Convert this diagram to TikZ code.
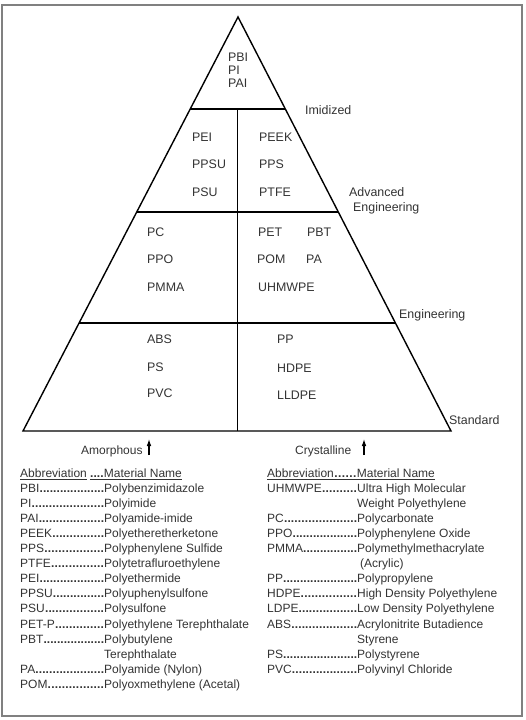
\documentclass[tikz,border=0pt]{standalone}
\usepackage{fontspec}
\setmainfont{Liberation Sans}
\usetikzlibrary{calc,arrows.meta}
\definecolor{txtgray}{HTML}{333333}
\definecolor{framegray}{HTML}{808080}
\newcommand{\dotlead}{\xleaders\hbox{\textbf{.}}\hfill}
\newcommand{\trow}[3]{\makebox[#1][l]{#2\dotlead}#3}
\tikzset{
  pyrline/.style={line width=1.4pt, black},
  framebox/.style={draw=framegray, line width=1.3pt},
  ptxt/.style={font=\fontsize{12.4}{14}\selectfont, text=txtgray, inner sep=0pt, anchor=base west},
  ttxt/.style={font=\fontsize{12}{14}\selectfont, text=txtgray, inner sep=0pt, anchor=base west},
  uparrow/.style={line width=1.1pt, -{Latex[length=7pt,width=4.6pt]}}
}
\begin{document}
\begin{tikzpicture}[x=1pt,y=-1pt]
\useasboundingbox (0,0) rectangle (525,720);
% frame
\draw[framebox] (2,5) rectangle (522,716);
% pyramid
\coordinate (apex) at (238,17);
\coordinate (bl) at (23,431);
\coordinate (br) at (451,431);
\coordinate (h1l) at ($(apex)!0.2222!(bl)$);
\coordinate (h1r) at ($(apex)!0.2222!(br)$);
\coordinate (h2l) at ($(apex)!0.4710!(bl)$);
\coordinate (h2r) at ($(apex)!0.4710!(br)$);
\coordinate (h3l) at ($(apex)!0.7391!(bl)$);
\coordinate (h3r) at ($(apex)!0.7391!(br)$);
\coordinate (vt) at ($(h1l)!0.5!(h1r)$);
\coordinate (vb) at (vt |- bl);
\draw[pyrline, line join=miter] (apex) -- (bl) -- (br) -- cycle;
\draw[pyrline] (h1l) -- (h1r);
\draw[pyrline] (h2l) -- (h2r);
\draw[pyrline] (h3l) -- (h3r);
\draw[pyrline] (vt) -- (vb);
% pyramid contents
\node[ptxt] (pbi) at (228,61) {PBI};
\node[ptxt] (pi) at (228,74) {PI};
\node[ptxt] (pai) at (228,87) {PAI};
\node[ptxt] (pei) at (192,141.5) {PEI};
\node[ptxt] (ppsu) at (192,168.5) {PPSU};
\node[ptxt] (psu) at (192,196.5) {PSU};
\node[ptxt] (peek) at (259,141.5) {PEEK};
\node[ptxt] (pps) at (259,168.5) {PPS};
\node[ptxt] (ptfe) at (259,196.5) {PTFE};
\node[ptxt] (pc) at (147,236.5) {PC};
\node[ptxt] (ppo) at (147,263.5) {PPO};
\node[ptxt] (pmma) at (147,291.5) {PMMA};
\node[ptxt] (pet) at (258,236.5) {PET};
\node[ptxt] (pbt) at (307,236.5) {PBT};
\node[ptxt] (pom) at (257,263.5) {POM};
\node[ptxt] (pa) at (306,263.5) {PA};
\node[ptxt] (uhmwpe) at (258,291.5) {UHMWPE};
\node[ptxt] (abs) at (147,343.5) {ABS};
\node[ptxt] (ps) at (147,371.5) {PS};
\node[ptxt] (pvc) at (147,397.5) {PVC};
\node[ptxt] (pp) at (277,343.5) {PP};
\node[ptxt] (hdpe) at (277,372.5) {HDPE};
\node[ptxt] (lldpe) at (277,399.5) {LLDPE};
% level labels
\node[ptxt] (imid) at (305,114.5) {Imidized};
\node[ptxt] (adv1) at (349,196.5) {Advanced};
\node[ptxt] (adv2) at (353,211.5) {Engineering};
\node[ptxt] (eng) at (399,318.5) {Engineering};
\node[ptxt] (std) at (449,424.5) {Standard};
% amorphous / crystalline
\node[ttxt] (amor) at (81,454.2) {Amorphous};
\node[ttxt] (cryst) at (295,454.2) {Crystalline};
\coordinate (a1s) at (149,455);
\coordinate (a1e) at (149,439);
\coordinate (a2s) at (364,455);
\coordinate (a2e) at (364,439);
\draw[uparrow] (a1s) -- (a1e);
\draw[uparrow] (a2s) -- (a2e);
% left table
\node[ttxt] (lh) at (20,477.2) {\underline{Abbreviation}\hspace{3pt}\underline{\makebox[14pt][l]{\dotlead}Material Name}};
\foreach \i/\a/\n in {1/PBI/Polybenzimidazole,2/PI/Polyimide,3/PAI/Polyamide-imide,4/PEEK/Polyetheretherketone,5/PPS/Polyphenylene Sulfide,6/PTFE/Polytetrafluroethylene,7/PEI/Polyethermide,8/PPSU/Polyuphenylsulfone,9/PSU/Polysulfone,10/PET-P/Polyethylene Terephthalate,11/PBT/Polybutylene,13/PA/Polyamide (Nylon),14/POM/Polyoxmethylene (Acetal)}
  \node[ttxt] (L\i) at (20,{477.2+15.08*\i}) {\trow{84pt}{\a}{\n}};
\node[ttxt] (L12) at (104,{477.2+15.08*12}) {Terephthalate};
% right table
\node[ttxt] (rh) at (267,477.2) {\underline{Abbreviation\makebox[23pt][l]{\dotlead}Material Name}};
\foreach \i/\a/\n in {1/UHMWPE/Ultra High Molecular,3/PC/Polycarbonate,4/PPO/Polyphenylene Oxide,5/PMMA/Polymethylmethacrylate,7/PP/Polypropylene,8/HDPE/High Density Polyethylene,9/LDPE/Low Density Polyethylene,10/ABS/Acrylonitrite Butadience,12/PS/Polystyrene,13/PVC/Polyvinyl Chloride}
  \node[ttxt] (R\i) at (267,{477.2+15.08*\i}) {\trow{90pt}{\a}{\n}};
\node[ttxt] (R2) at (357,{477.2+15.08*2}) {Weight Polyethylene};
\node[ttxt] (R6) at (360,{477.2+15.08*6}) {(Acrylic)};
\node[ttxt] (R11) at (357,{477.2+15.08*11}) {Styrene};
\end{tikzpicture}
\end{document}
